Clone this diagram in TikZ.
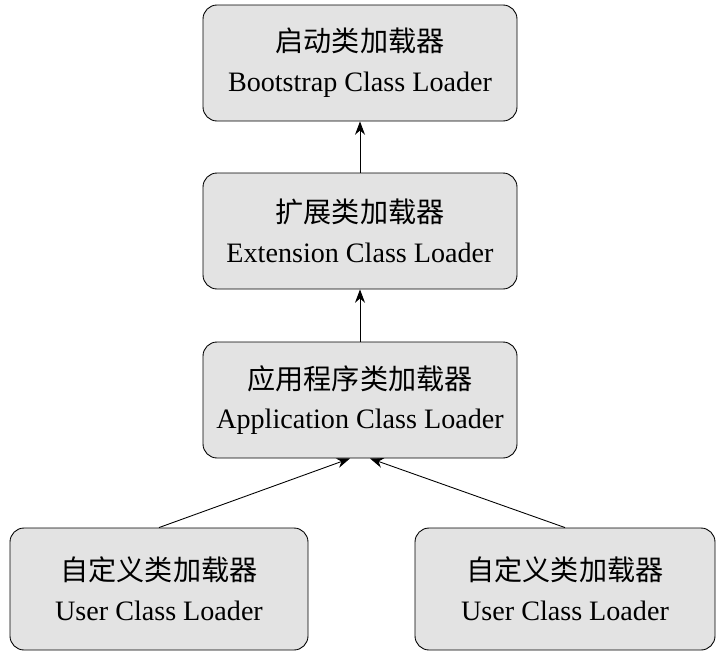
\documentclass[tikz,border=0pt]{standalone}
\usepackage{fontspec}
\setmainfont{Liberation Serif}
\newfontfamily\cjk{Noto Sans CJK SC}
\usetikzlibrary{arrows.meta}
\tikzset{every picture/.style={line width=0.75pt}}
\tikzset{loader/.style={draw,rounded corners=12pt,fill=gray!22,minimum width=9.42cm,minimum height=3.48cm,align=center,font=\fontsize{24}{34}\selectfont}}
\begin{document}
\begin{tikzpicture}
  \useasboundingbox (0,0) rectangle (21.72,-19.74);
    \node[loader] (boot) at (10.8,-1.89) {{\cjk 启动类加载器}\\Bootstrap Class Loader};
    \node[loader] (ext) at (10.8,-6.93) {{\cjk 扩展类加载器}\\Extension Class Loader};
    \node[loader] (app) at (10.8,-12.0) {{\cjk 应用程序类加载器}\\Application Class Loader};
    \node[loader,minimum width=8.94cm,minimum height=3.66cm] (user1) at (4.77,-17.67) {{\cjk 自定义类加载器}\\User Class Loader};
    \node[loader,minimum width=9.0cm,minimum height=3.66cm] (user2) at (16.95,-17.67) {{\cjk 自定义类加载器}\\User Class Loader};

    \draw[-{Stealth[length=4mm]}] (ext) -- (boot);
    \draw[-{Stealth[length=4mm]}] (app) -- (ext);
    \draw[-{Stealth[length=4mm]}] (user1.north) -- ([xshift=-0.3cm]app.south);
    \draw[-{Stealth[length=4mm]}] (user2.north) -- ([xshift=0.3cm]app.south);
\end{tikzpicture}
\end{document}
